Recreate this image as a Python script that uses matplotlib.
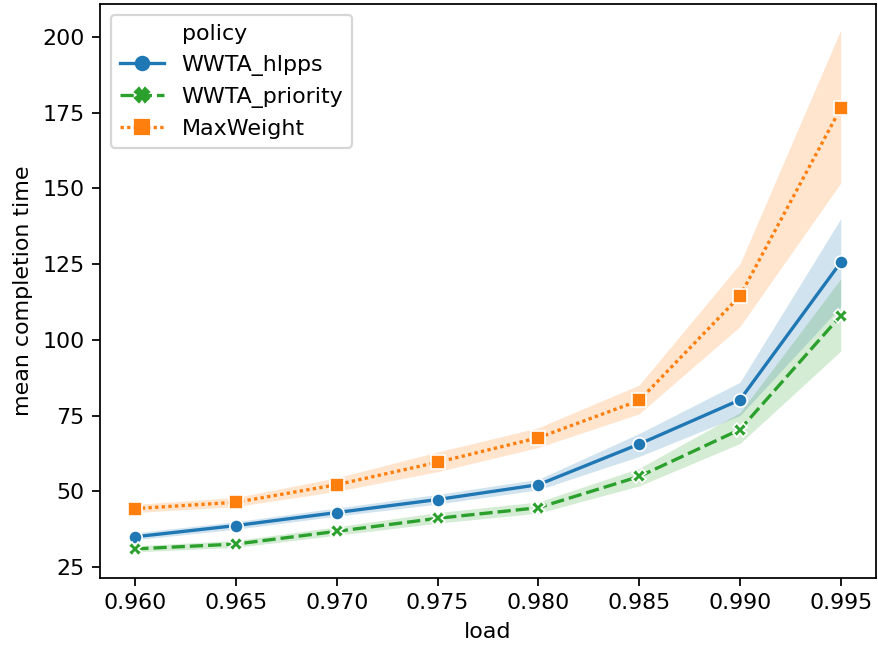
import matplotlib
matplotlib.use("Agg")
import matplotlib.pyplot as plt
from matplotlib.lines import Line2D

# load levels
loads = [0.960, 0.965, 0.970, 0.975, 0.980, 0.985, 0.990, 0.995]

# mean completion time per policy
hlpps_mean = [35.0, 38.7, 43.0, 47.3, 52.2, 65.6, 80.2, 125.6]
priority_mean = [31.0, 32.6, 36.8, 41.1, 44.6, 54.9, 70.4, 108.0]
maxweight_mean = [44.3, 46.4, 52.2, 59.6, 67.7, 80.0, 114.5, 176.5]

# confidence band (lower, upper)
hlpps_lo = [34.0, 37.5, 41.8, 45.8, 50.5, 61.5, 75.0, 111.0]
hlpps_hi = [36.3, 40.0, 44.5, 49.0, 54.0, 69.1, 86.0, 140.0]
priority_lo = [30.0, 31.5, 35.5, 39.5, 42.8, 51.8, 65.8, 96.3]
priority_hi = [32.0, 33.8, 38.3, 43.0, 46.5, 57.6, 76.0, 120.2]
maxweight_lo = [43.0, 45.0, 50.0, 56.5, 64.5, 75.6, 104.4, 151.8]
maxweight_hi = [45.7, 48.0, 54.5, 63.0, 71.0, 85.1, 125.1, 202.3]

policies = ["WWTA_hlpps", "WWTA_priority", "MaxWeight"]
means = [hlpps_mean, priority_mean, maxweight_mean]
lows = [hlpps_lo, priority_lo, maxweight_lo]
highs = [hlpps_hi, priority_hi, maxweight_hi]

# seaborn-like styling: hue + style on the same variable
colors = ["#1f77b4", "#2ca02c", "#ff7f0e"]
markers = ["o", "X", "s"]
dashes = [None, (4, 1.5), (1, 1)]

dpi = 159
fig, ax = plt.subplots(figsize=(878 / dpi, 652 / dpi), dpi=dpi)

handles = [Line2D([], [], linestyle="none")]
for name, m, lo, hi, c, mk, d in zip(policies, means, lows, highs, colors, markers, dashes):
    line, = ax.plot(loads, m, color=c, lw=1.5, marker=mk, markersize=6,
                    markeredgecolor="w", markeredgewidth=0.75)
    if d is not None:
        line.set_dashes(d)
    ax.fill_between(loads, lo, hi, color=c, alpha=0.2, linewidth=0)
    h = Line2D([], [], color=c, lw=1.5, marker=mk, markersize=6)
    if d is not None:
        h.set_dashes(d)
    handles.append(h)

ax.set_xticks(loads)
ax.set_xticklabels([f"{x:.3f}" for x in loads])
ax.set_xlabel("load")
ax.set_ylabel("mean completion time")

# old seaborn legend: the variable name sits as a blank first entry
ax.legend(handles, ["policy"] + policies, loc="upper left")

plt.subplots_adjust(left=100 / 878, right=876 / 878, top=1 - 4 / 652, bottom=1 - 578 / 652)
plt.savefig("out.png", dpi=dpi)
